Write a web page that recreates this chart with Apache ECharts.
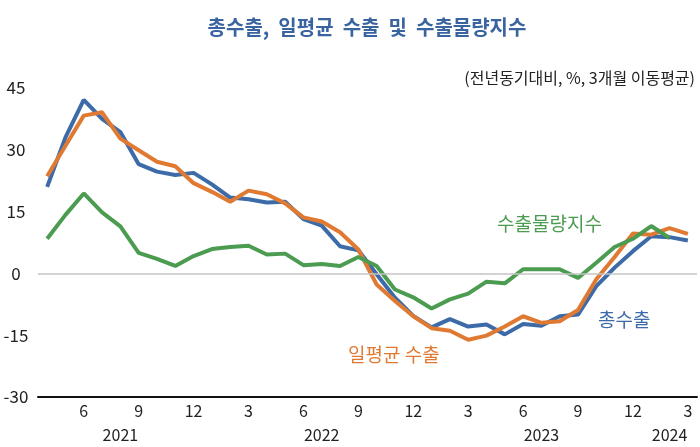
<!DOCTYPE html>
<html><head><meta charset="utf-8">
<script src="https://cdn.jsdelivr.net/npm/echarts@6/dist/echarts.min.js"></script>
<style>html,body{margin:0;padding:0;background:#fff}#c{width:700px;height:447px}</style>
</head><body><div id="c"></div>
<script>
var categories = ['2021.4','2021.5','2021.6','2021.7','2021.8','2021.9','2021.10','2021.11','2021.12',
 '2022.1','2022.2','2022.3','2022.4','2022.5','2022.6','2022.7','2022.8','2022.9','2022.10','2022.11','2022.12',
 '2023.1','2023.2','2023.3','2023.4','2023.5','2023.6','2023.7','2023.8','2023.9','2023.10','2023.11','2023.12',
 '2024.1','2024.2','2024.3'];
var totalExports = [21.0,33.0,42.1,37.5,34.3,26.5,24.7,23.9,24.4,21.6,18.4,18.0,17.2,17.4,13.2,11.6,6.6,5.6,-0.2,-5.9,-10.3,-13.1,-11.1,-12.9,-12.4,-14.8,-12.3,-12.7,-10.4,-10.0,-3.1,1.4,5.4,9.0,8.8,8.0];
var dailyExports = [23.6,31.0,38.3,39.1,32.7,29.9,27.1,26.0,21.9,19.8,17.4,20.1,19.2,17.0,13.6,12.6,10.0,5.8,-2.7,-6.7,-10.4,-13.3,-13.9,-16.1,-15.1,-12.9,-10.4,-12.0,-11.6,-8.9,-1.4,4.0,9.7,9.4,11.0,9.6];
var volumeIndex = [8.4,14.2,19.4,14.8,11.4,5.0,3.5,1.8,4.2,5.9,6.4,6.7,4.6,4.8,2.0,2.3,1.8,4.0,1.8,-3.9,-5.8,-8.5,-6.3,-4.9,-2.0,-2.4,1.0,1.0,1.0,-1.1,2.6,6.4,8.4,11.5,8.6,null];
var yearLabels = ['2021','2022','2023','2024'];
var yearLabelCategories = ['2021.8','2022.7','2023.7','2024.2'];
var seriesNames = ['총수출','일평균 수출','수출물량지수'];

var FONT = '"Noto Sans CJK KR", "Noto Sans", sans-serif';
var BLUE = '#3d6ba8', ORANGE = '#e07a33', GREEN = '#4b9b50';

var chart = echarts.init(document.getElementById('c'), null, {renderer:'canvas'});
chart.setOption({
  animation:false,
  backgroundColor:'#fff',
  title:[{text:'총수출,  일평균  수출  및  수출물량지수', left:362, textAlign:'center', top:12,
    textStyle:{fontFamily:FONT, fontSize:20, fontWeight:'bold', color:'#3a64a0'}},
    {text:'(전년동기대비, %, 3개월 이동평균)', right:0, top:65,
    textStyle:{fontFamily:FONT, fontSize:16, fontWeight:'normal', color:'#222'}}],
  grid:{left:38, right:3, top:88, bottom:48},
  xAxis:{type:'category', data:categories, boundaryGap:true,
    axisLine:{show:true, onZero:false, lineStyle:{color:'#111', width:2}}, axisTick:{show:false},
    axisLabel:{interval:0, margin:2, lineHeight:24, fontFamily:FONT, fontSize:16, color:'#222',
      formatter:function(v){
        var m=+v.split('.')[1];
        var s = m%3===0? String(m):'';
        var k = yearLabelCategories.indexOf(v);
        if(k>=0) s = s + '\n' + yearLabels[k];
        return s;}}},
  yAxis:{type:'value', min:-30, max:45, interval:15,
    axisLine:{show:false}, axisTick:{show:false}, splitLine:{show:false},
    axisLabel:{align:'center', margin:22, fontFamily:FONT, fontSize:17, color:'#222'}},
  series:[
    {name:seriesNames[0], type:'line', data:totalExports, symbol:'none', lineStyle:{color:BLUE,width:4}, itemStyle:{color:BLUE},
     markLine:{silent:true, symbol:'none', label:{show:false},
       data:[{yAxis:0, lineStyle:{color:'#c4c4c4', width:1.5, type:'solid'}}]}},
    {name:seriesNames[1], type:'line', data:dailyExports, symbol:'none', lineStyle:{color:ORANGE,width:4}, itemStyle:{color:ORANGE}},
    {name:seriesNames[2], type:'line', data:volumeIndex, symbol:'none', lineStyle:{color:GREEN,width:4}, itemStyle:{color:GREEN}}
  ],
  graphic:[
    {type:'text', left:497, top:214, style:{text:seriesNames[2], fontFamily:FONT, fontSize:19, fill:GREEN}},
    {type:'text', left:598, top:310, style:{text:seriesNames[0], fontFamily:FONT, fontSize:19, fill:BLUE}},
    {type:'text', left:348, top:345, style:{text:seriesNames[1], fontFamily:FONT, fontSize:19, fill:ORANGE}}
  ]
});
// base line drawn from the axis scale (y = -30, across the full grid width)
var yBase = chart.convertToPixel({yAxisIndex:0}, -30);
var halfBand = (chart.convertToPixel({xAxisIndex:0}, categories[1]) - chart.convertToPixel({xAxisIndex:0}, categories[0])) / 2;
var xStart = chart.convertToPixel({xAxisIndex:0}, categories[0]) - halfBand;
var xEnd = chart.convertToPixel({xAxisIndex:0}, categories[categories.length-1]) + halfBand;
chart.setOption({graphic:[{id:'baseLine', type:'line', z:100,
  shape:{x1:xStart, y1:yBase, x2:xEnd, y2:yBase}, style:{stroke:'#111', lineWidth:2}}]});
</script></body></html>
